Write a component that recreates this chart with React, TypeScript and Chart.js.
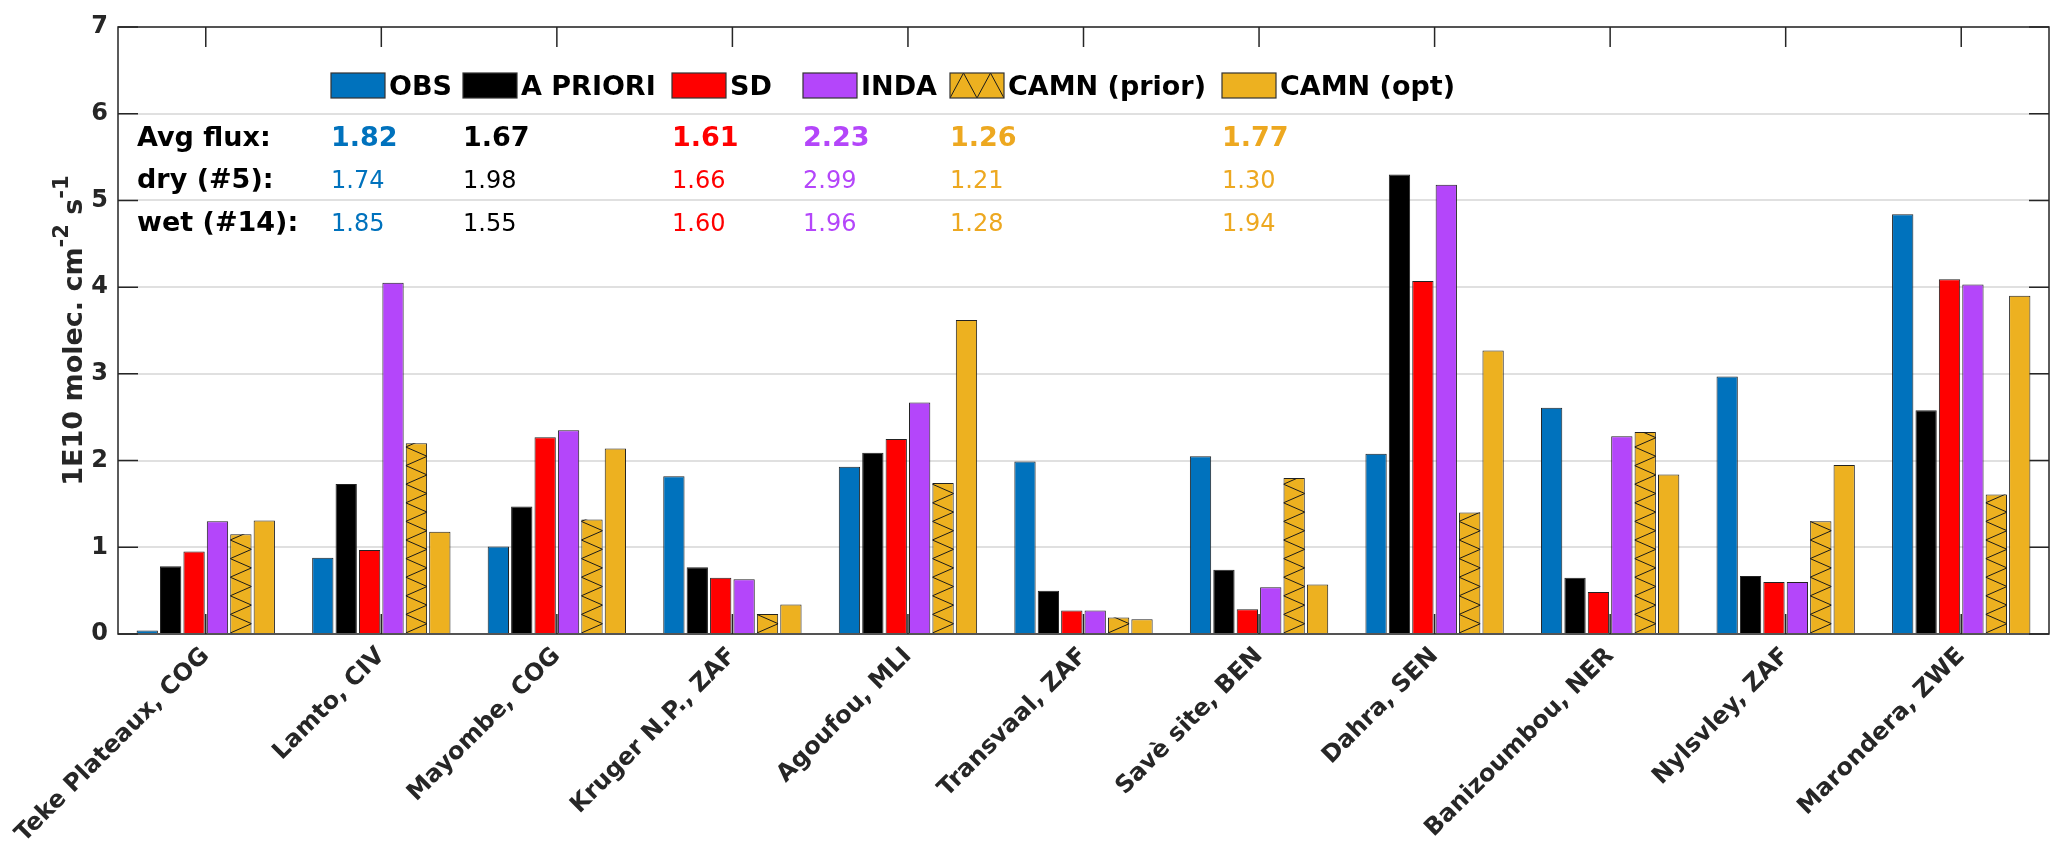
import React, { useEffect, useRef } from 'react';
import { Chart, registerables } from 'chart.js';

Chart.register(...registerables);

// ---------------- data ----------------
const categories = [
  'Teke Plateaux, COG',
  'Lamto, CIV',
  'Mayombe, COG',
  'Kruger N.P., ZAF',
  'Agoufou, MLI',
  'Transvaal, ZAF',
  'Savè site, BEN',
  'Dahra, SEN',
  'Banizoumbou, NER',
  'Nylsvley, ZAF',
  'Marondera, ZWE',
];
const seriesNames = ['OBS', 'A PRIORI', 'SD', 'INDA', 'CAMN (prior)', 'CAMN (opt)'];
const obs = [0.04, 0.88, 1.01, 1.82, 1.93, 1.99, 2.05, 2.08, 2.61, 2.97, 4.84];
const apriori = [0.78, 1.73, 1.47, 0.77, 2.09, 0.5, 0.74, 5.3, 0.65, 0.67, 2.58];
const sd = [0.95, 0.97, 2.27, 0.65, 2.25, 0.27, 0.285, 4.07, 0.485, 0.6, 4.09];
const inda = [1.3, 4.05, 2.35, 0.63, 2.67, 0.27, 0.54, 5.18, 2.28, 0.6, 4.03];
const camnPrior = [1.15, 2.2, 1.32, 0.23, 1.74, 0.19, 1.8, 1.4, 2.33, 1.3, 1.61];
const camnOpt = [1.31, 1.18, 2.14, 0.34, 3.62, 0.17, 0.57, 3.27, 1.84, 1.95, 3.9];
const yTicks = [0, 1, 2, 3, 4, 5, 6, 7];
const statRowLabels = ['Avg flux:', 'dry (#5):', 'wet (#14):'];
const avgFlux = ['1.82', '1.67', '1.61', '2.23', '1.26', '1.77'];
const dryFlux = ['1.74', '1.98', '1.66', '2.99', '1.21', '1.30'];
const wetFlux = ['1.85', '1.55', '1.60', '1.96', '1.28', '1.94'];
const yTitleParts = ['1E10 molec. cm', '-2', ' s', '-1'];

// ---------------- style ----------------
const FONT = '"DejaVu Sans", sans-serif';
const AXIS = '#262626';
const COLORS = ['#0072BD', '#000000', '#FF0000', '#B446FA', '#EDB120', '#EDB120'];
const TEXT_COLORS = ['#0072BD', '#000000', '#FF0000', '#B446FA', '#EDA820', '#EDA820'];
const COL_X = [331, 463, 672, 803, 950, 1222];
const HATCH_INDEX = 4;

function vZigzag(ctx: CanvasRenderingContext2D, l: number, r: number, t: number, b: number, period: number) {
  ctx.save();
  ctx.beginPath();
  ctx.rect(l, t, r - l, b - t);
  ctx.clip();
  ctx.beginPath();
  let y = b;
  let left = true;
  ctx.moveTo(l, y);
  while (y > t - period) {
    y -= period / 2;
    left = !left;
    ctx.lineTo(left ? l : r, y);
  }
  ctx.strokeStyle = '#1a1a1a';
  ctx.lineWidth = 1;
  ctx.stroke();
  ctx.restore();
}

const decorPlugin = {
  id: 'decor',
  beforeDatasetsDraw(chart: any) {
    const { ctx, chartArea: a, scales } = chart;
    ctx.save();
    ctx.strokeStyle = AXIS;
    ctx.lineWidth = 1.5;
    ctx.beginPath();
    yTicks.forEach((v) => {
      const py = scales.y.getPixelForValue(v);
      ctx.moveTo(a.left, py);
      ctx.lineTo(a.left + 20, py);
      ctx.moveTo(a.right, py);
      ctx.lineTo(a.right - 20, py);
    });
    categories.forEach((_, i) => {
      const px = scales.x.getPixelForValue(i);
      ctx.moveTo(px, a.top);
      ctx.lineTo(px, a.top + 20);
      ctx.moveTo(px, a.bottom);
      ctx.lineTo(px, a.bottom - 20);
    });
    ctx.stroke();
    ctx.restore();
  },
  afterDatasetsDraw(chart: any) {
    const { ctx, chartArea: a } = chart;
    // hatch on CAMN (prior)
    const meta = chart.getDatasetMeta(HATCH_INDEX);
    meta.data.forEach((el: any) => {
      const p = el.getProps(['x', 'y', 'base', 'width'], true);
      vZigzag(ctx, p.x - p.width / 2, p.x + p.width / 2, Math.min(p.y, p.base), Math.max(p.y, p.base), 18.6);
    });

    // box
    ctx.save();
    ctx.strokeStyle = AXIS;
    ctx.lineWidth = 1.5;
    ctx.strokeRect(a.left, a.top, a.right - a.left, a.bottom - a.top);
    ctx.restore();

    // legend
    ctx.save();
    const boxW = 54;
    const boxTop = 73;
    const boxH = 25;
    ctx.font = `bold 27px ${FONT}`;
    ctx.textBaseline = 'alphabetic';
    ctx.textAlign = 'left';
    seriesNames.forEach((name, i) => {
      const x = COL_X[i];
      ctx.fillStyle = COLORS[i];
      ctx.fillRect(x, boxTop, boxW, boxH);
      if (i === HATCH_INDEX) {
        ctx.save();
        ctx.beginPath();
        ctx.rect(x, boxTop, boxW, boxH);
        ctx.clip();
        ctx.beginPath();
        ctx.moveTo(x, boxTop + boxH);
        ctx.lineTo(x + boxW * 0.25, boxTop);
        ctx.lineTo(x + boxW * 0.5, boxTop + boxH);
        ctx.lineTo(x + boxW * 0.75, boxTop);
        ctx.lineTo(x + boxW, boxTop + boxH);
        ctx.strokeStyle = '#1a1a1a';
        ctx.lineWidth = 1;
        ctx.stroke();
        ctx.restore();
      }
      ctx.strokeStyle = '#333';
      ctx.lineWidth = 1.2;
      ctx.strokeRect(x, boxTop, boxW, boxH);
      ctx.fillStyle = '#000';
      ctx.fillText(name, x + boxW + 4, 95);
    });
    ctx.restore();

    // stats
    ctx.save();
    ctx.textAlign = 'left';
    ctx.textBaseline = 'alphabetic';
    const rowsY = [146, 188, 231];
    ctx.font = `bold 27px ${FONT}`;
    ctx.fillStyle = '#000';
    statRowLabels.forEach((lbl, r) => ctx.fillText(lbl, 137, rowsY[r]));
    avgFlux.forEach((v, i) => {
      ctx.font = `bold 27px ${FONT}`;
      ctx.fillStyle = TEXT_COLORS[i];
      ctx.fillText(v, COL_X[i], rowsY[0]);
    });
    [dryFlux, wetFlux].forEach((row, r) => {
      row.forEach((v, i) => {
        ctx.font = `24px ${FONT}`;
        ctx.fillStyle = TEXT_COLORS[i];
        ctx.fillText(v, COL_X[i], rowsY[r + 1]);
      });
    });
    ctx.restore();

    // y-axis title with superscripts
    ctx.save();
    const mainFont = `bold 27px ${FONT}`;
    const supFont = `bold 21px ${FONT}`;
    const widths = yTitleParts.map((t, i) => {
      ctx.font = i % 2 === 1 ? supFont : mainFont;
      return ctx.measureText(t).width;
    });
    const total = widths.reduce((s, w) => s + w, 0);
    const cy = (a.top + a.bottom) / 2;
    ctx.translate(82, cy);
    ctx.rotate(-Math.PI / 2);
    ctx.fillStyle = AXIS;
    ctx.textAlign = 'left';
    ctx.textBaseline = 'alphabetic';
    let xx = -total / 2;
    yTitleParts.forEach((t, i) => {
      const sup = i % 2 === 1;
      ctx.font = sup ? supFont : mainFont;
      ctx.fillText(t, xx, sup ? -14 : 0);
      xx += widths[i];
    });
    ctx.restore();
  },
};

export default function App() {
  const ref = useRef<HTMLCanvasElement | null>(null);
  useEffect(() => {
    document.body.style.margin = '0';
    if (!ref.current) return;
    const datasets = [obs, apriori, sd, inda, camnPrior, camnOpt].map((d, i) => ({
      label: seriesNames[i],
      data: d,
      backgroundColor: COLORS[i],
      borderColor: '#222',
      borderWidth: 1,
      categoryPercentage: 0.8,
      barPercentage: 0.91,
    }));
    const chart = new Chart(ref.current, {
      type: 'bar',
      data: { labels: categories, datasets },
      options: {
        responsive: true,
        maintainAspectRatio: false,
        animation: false,
        layout: { padding: { top: 27, right: 18, left: 0, bottom: 0 } },
        plugins: { legend: { display: false }, tooltip: { enabled: false } },
        scales: {
          x: {
            grid: { display: false, drawTicks: false },
            border: { display: false },
            ticks: {
              autoSkip: false,
              maxRotation: 45,
              minRotation: 45,
              padding: 8,
              color: AXIS,
              font: { family: FONT, size: 24, weight: 'bold' },
            },
            afterFit: (s: any) => {
              s.height = 231;
            },
          },
          y: {
            min: 0,
            max: 7,
            grid: { color: '#e0e0e0', lineWidth: 2, drawTicks: false },
            border: { display: false },
            ticks: {
              stepSize: 1,
              padding: 10,
              color: AXIS,
              font: { family: FONT, size: 24, weight: 'bold' },
            },
            afterFit: (s: any) => {
              s.width = 118;
            },
          },
        },
      },
      plugins: [decorPlugin],
    });
    return () => chart.destroy();
  }, []);
  return (
    <div style={{ width: 2067, height: 865, position: 'relative', background: '#fff' }}>
      <canvas ref={ref} style={{ display: 'block' }} />
    </div>
  );
}
